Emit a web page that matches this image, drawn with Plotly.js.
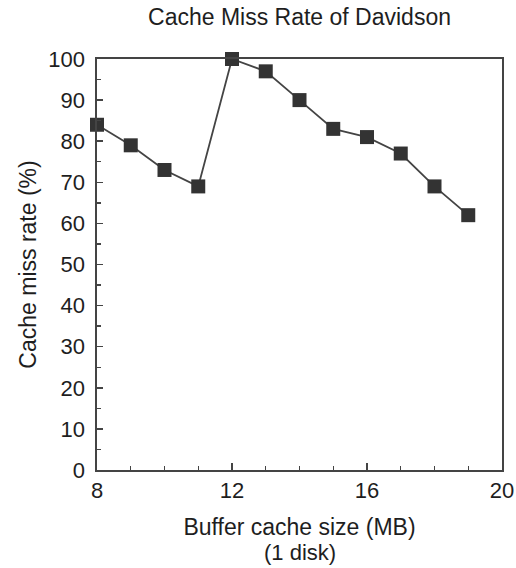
<!DOCTYPE html>
<html>
<head>
<meta charset="utf-8">
<script src="https://cdn.plot.ly/plotly-3.0.1.min.js"></script>
<style>html,body{margin:0;padding:0;background:#fff;}#chart{width:516px;height:568px;}</style>
</head>
<body>
<div id="chart"></div>
<script>
const bufferSizeMB = [8, 9, 10, 11, 12, 13, 14, 15, 16, 17, 18, 19];
const missRatePct = [84, 79, 73, 69, 100, 97, 90, 83, 81, 77, 69, 62];
const xTicks = [8, 12, 16, 20];
const yTicks = [0, 10, 20, 30, 40, 50, 60, 70, 80, 90, 100];
const xTitleLine1 = "Buffer cache size (MB)";
const xTitleLine2 = "(1 disk)";

const font = "Liberation Sans, Arial, Helvetica, sans-serif";
const axisColor = "#444";
const textColor = "#1e1e1e";

Plotly.newPlot("chart", [{
  x: bufferSizeMB,
  y: missRatePct,
  type: "scatter",
  mode: "lines+markers",
  line: {color: "#444444", width: 1.8},
  marker: {symbol: "square", size: 14, color: "#333333"},
  cliponaxis: false,
  showlegend: false
}], {
  width: 516,
  height: 568,
  paper_bgcolor: "#ffffff",
  plot_bgcolor: "#ffffff",
  margin: {l: 97, r: 14, t: 59, b: 98},
  title: {
    text: "Cache Miss Rate of Davidson",
    font: {family: font, size: 23, color: textColor},
    xref: "paper", x: 0.5, xanchor: "center",
    yref: "container", y: 0.97, yanchor: "middle"
  },
  xaxis: {
    range: [8, 20],
    tickmode: "array",
    tickvals: xTicks,
    ticktext: xTicks.map(String),
    ticks: "inside",
    ticklen: 7,
    tickwidth: 1.5,
    tickcolor: axisColor,
    minor: {dtick: 1, tick0: 8, ticks: "inside", ticklen: 4, tickwidth: 1.3, tickcolor: axisColor, showgrid: false},
    showline: true,
    linecolor: axisColor,
    linewidth: 1.6,
    mirror: true,
    showgrid: false,
    zeroline: false,
    tickfont: {family: font, size: 22, color: textColor},
    title: {text: xTitleLine1, font: {family: font, size: 23, color: textColor}, standoff: 17}
  },
  yaxis: {
    range: [0, 100],
    tickmode: "array",
    tickvals: yTicks,
    ticktext: yTicks.map(String),
    ticks: "inside",
    ticklen: 6,
    tickwidth: 1.5,
    tickcolor: axisColor,
    minor: {dtick: 5, tick0: 0, ticks: "inside", ticklen: 4, tickwidth: 1.3, tickcolor: axisColor, showgrid: false},
    showline: true,
    linecolor: axisColor,
    linewidth: 1.6,
    mirror: true,
    showgrid: false,
    zeroline: false,
    ticklabelstandoff: 6,
    tickfont: {family: font, size: 22, color: textColor},
    title: {text: "Cache miss rate (%)", font: {family: font, size: 23, color: textColor}, standoff: 5}
  },
  annotations: [{
    text: xTitleLine2,
    xref: "paper", x: 0.5, xanchor: "center",
    yref: "paper", y: 0, yanchor: "bottom", yshift: -97,
    showarrow: false,
    font: {family: font, size: 22, color: textColor}
  }]
}, {staticPlot: true, displayModeBar: false});
</script>
</body>
</html>
